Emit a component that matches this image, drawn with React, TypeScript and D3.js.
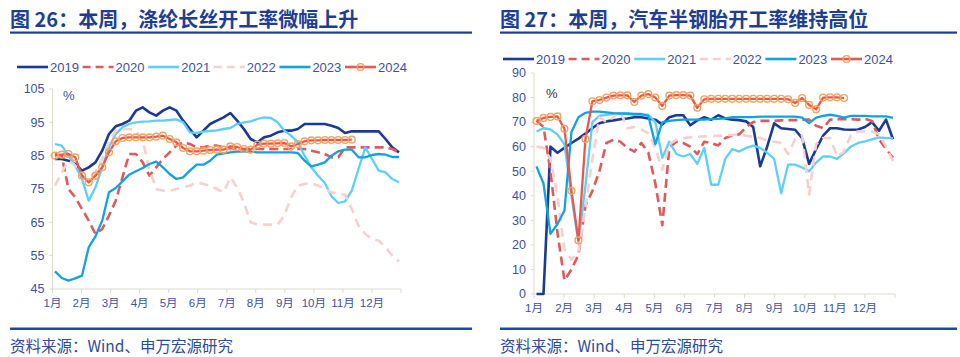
import React from "react";
import * as d3 from "d3";

const years = ["2019", "2020", "2021", "2022", "2023", "2024"];
const monthLabels = ["1月", "2月", "3月", "4月", "5月", "6月", "7月", "8月", "9月", "10月", "11月", "12月"];

const leftTicks = [45, 55, 65, 75, 85, 95, 105];
const rightTicks = [0, 10, 20, 30, 40, 50, 60, 70, 80, 90];

// 涤纶长丝开工率 (weekly, %)
const L2019 = [84,84,83.5,82.5,80.5,81.5,83,86.5,91.5,93.8, 94.5,95.5,98.5,99.5,98,97,98.5,99.5,98.5,95.5, 93,90.5,92.5,94.5,95.5,96.5,97.8,95.5,93,90, 89,90.5,91,92,92.5,92.5,93,94.5,94.5,94.5, 94.5,94,93.3,91.8,92.3,92.3,92.3,92.3,92.3,90, 87.5,86];
const L2020 = [85.5,85,75,72.5,69,65.5,61.5,63,67,71.5, 78.5,85.5,85.5,83,79,81.5,84,86,88,89, 88.5,87.5,87.5,88,88,87.5,87,87,87,87, 87,87,87,87,87,87,87,87,86.5,86, 85.5,84.5,84.5,87.5,87.5,87.5,87.5,87.5,87.5,87.5, 87,86];
const L2021 = [88.5,88,85,82,78,71.5,75.5,81.5,87.5,91.5, 93.5,94.5,95,95.2,95.3,95.5,95.5,95.7,95.9,95, 92,91.8,92.2,92.4,92.6,93,93.3,94.5,95,95.3, 96,96.5,96.3,95,92.5,91,89,85,81.5,79, 76.8,72.8,70.8,71.3,74.5,81,87.5,84,80.5,80, 78,77];
const L2022 = [76,80,83.5,82,79,78,80,84,89,92.5, 93,93,92.5,89.5,81,75,74.5,74.5,75,75.5, 76,77,76.5,76,75,74,78.5,75.5,71,65, 64.3,64.3,64.3,64.3,67,72.5,76,76.5,76.8,76, 75,74,73.5,73.3,69,64,61.5,60,59.5,57.5, 55,53.3];
const L2023 = [50.3,48.3,47.5,48.2,49,57.5,60.8,65.5,74,75.3, 77.3,79.3,80.3,81.3,82.5,83.2,81.5,79.5,78,78.5, 80.5,82.3,82.3,83.5,85.3,85.7,86,86.2,86.2,86.2, 86,86,86,86,86,86,85.8,83.5,81.8,82.3, 83,85,86.3,86.8,86.8,84.5,84.5,85.2,85.5,85.3, 84.6,84.6];
const L2024 = [85,85.3,85.5,84.5,79,77,79,81.5,86,89.3, 90.3,90.5,90.5,90.5,90.5,90.7,91,90,89,87.3, 86.3,86.3,86.5,86.7,86.8,86.8,87.8,87.6,87,86.8, 88.3,88.6,88.6,88.7,88.8,87.8,88.5,89.3,89.6,89.6, 89.7,89.7,89.7,89.7,89.8];

// 汽车半钢胎开工率 (weekly, %)
const R2019 = [0,0,60,57.5,59.5,61.5,63.3,65.3,67.6,69.5, 70.3,70.7,71.2,71.5,72,72,71.5,71,69,72, 72.8,72.8,68.7,70.7,72,71,72.8,71.5,71,70.8, 70.3,68,52,60,69.5,67.5,67.2,66.9,63.5,53, 59,64.5,67.5,67.5,67,66.9,67,68,70,66.5, 71,63];
const R2020 = [70.5,68,50,25,5.5,10,16,36,42,50, 61.5,62.8,62,59.5,58,61.5,57.5,45,28,59.5, 62,61.5,60,57,62,61.5,60.5,63.5,64.5,65, 68,70,70.5,70.5,70.5,70.7,70.8,70.8,71,71, 68.5,67.5,71,71.2,71.2,71.2,71,71.3,70.5,63, 59,55.5];
const R2021 = [66.2,67.5,67,65,61,40,21,44,70,72.5, 73,73.3,73.5,73.3,73,73,73,70,55.5,62, 57,56,57,53,59.5,44.5,44.5,55,59,58, 59.5,60.4,59.5,57.5,55,41,52.7,52.7,51.5,50, 53.5,56,56,55,57.4,60.1,61.5,62.2,63,63.8, 63.5,63.5];
const R2022 = [60.1,59.5,55,40,18,14,17,35,55,72, 70,72,74.5,67.5,68,67,65.5,59.5,50.5,61, 62.8,63.5,63.8,64,64.2,64.2,64.5,64.5,64.8,64.8, 64.5,64,63.5,62.5,62,61.5,57,63,64.5,40.5, 61,63.5,63.5,56,58,65,66.2,66.2,66.2,65, 60,54];
const R2023 = [52,45,24.5,28.5,34,66,72,73.8,74.3,74.3, 74,73.7,73.5,73.5,73.3,73.3,72.5,61,70,70.5, 70.8,71,71,71,71,71.2,71.3,71.5,72,72, 72,72,72.2,72.2,72.2,72.2,72.2,72.2,71.8,69.6, 71.8,72.5,73,72.5,71.8,72.5,72.5,72.5,72.3,72.3, 72.3,71.7];
const R2024 = [70.5,71.7,72.1,72.3,67.3,42,21.8,63.1,78.5,79, 80,80.8,80.9,80.9,78.2,80.8,81.4,80,76.6,80.8, 81,81,80.8,75.8,79.3,79.5,79.5,79.5,79.5,79.5, 79.5,79.5,79.5,79.5,79.5,79.5,79.3,77.8,79.8,77, 75.2,80,80.1,80.1,79.8];

const COLORS = ["#1b3a93", "#e05a5a", "#5ccffa", "#f8cfcf", "#12a2e2", "#e8584f"];
const DASH = [null, "9,5", null, "9,6", null, null];
const WIDTH = [2.6, 2.6, 2.3, 2.6, 2.3, 2.3];
const MARKER = "#f2a35c";

const NAVY = "#1e3d94";
const TICKBLUE = "#3b52a0";
const AXIS = "#dcdacb";
const FONT = "'Liberation Sans', Arial, 'Noto Sans CJK SC', sans-serif";
const CJK = "'Noto Sans CJK SC', 'Liberation Sans', sans-serif";

type ChartProps = {
  title: string;
  left: number;
  right: number;
  x0: number;
  x1: number;
  yTop: number;
  yBottom: number;
  domain: [number, number];
  ticks: number[];
  series: number[][];
  legendX: number;
  legendY: number;
  pctX: number;
  pctY: number;
  pctColor: string;
};

function Chart(p: ChartProps) {
  const y = d3.scaleLinear().domain(p.domain).range([p.yBottom, p.yTop]);
  const xm = d3.scaleLinear().domain([0, 12]).range([p.x0, p.x1]);
  const xw = d3.scaleLinear().domain([0, 51]).range([p.x0 + 2.5, p.x1 - 2]);
  const line = d3
    .line<number>()
    .x((_, i) => xw(i))
    .y((v) => y(v));
  const monthTicks = d3.range(13);
  return (
    <g>
      <text x={p.left} y={27} fontFamily={CJK} fontWeight={700} fontSize={20} fill={NAVY}>
        {p.title}
      </text>
      <rect x={p.left} y={31.5} width={p.right - p.left} height={2.2} fill={NAVY} />

      {/* legend */}
      {years.map((yr, i) => {
        const lx = p.legendX + i * 65.6;
        return (
          <g key={yr}>
            <line
              x1={lx}
              x2={lx + 31}
              y1={p.legendY}
              y2={p.legendY}
              stroke={COLORS[i]}
              strokeWidth={2.6}
              strokeDasharray={DASH[i] ? "8,5" : undefined}
            />
            {i === 5 && (
              <circle cx={lx + 15.5} cy={p.legendY} r={3.4} fill="none" stroke={MARKER} strokeWidth={1.4} />
            )}
            <text x={lx + 33} y={p.legendY + 4.5} fontFamily={FONT} fontSize={13} fill={TICKBLUE}>
              {yr}
            </text>
          </g>
        );
      })}

      {/* axes */}
      <line x1={p.x0} x2={p.x0} y1={y(p.domain[1])} y2={p.yBottom} stroke={AXIS} strokeWidth={1} />
      <line x1={p.x0} x2={p.x1} y1={p.yBottom} y2={p.yBottom} stroke={AXIS} strokeWidth={1} />
      {p.ticks.map((t) => (
        <g key={t}>
          <line x1={p.x0 - 3} x2={p.x0} y1={y(t)} y2={y(t)} stroke={AXIS} />
          <text
            x={p.x0 - 8}
            y={y(t) + 4.3}
            textAnchor="end"
            fontFamily={FONT}
            fontSize={12.5}
            fill={TICKBLUE}
          >
            {t}
          </text>
        </g>
      ))}
      {monthTicks.map((m) => (
        <line key={m} x1={xm(m)} x2={xm(m)} y1={p.yBottom} y2={p.yBottom + 4} stroke={AXIS} />
      ))}
      {monthLabels.map((lab, m) => (
        <text
          key={lab}
          x={xm(m)}
          y={p.yBottom + 18}
          textAnchor="middle"
          fontFamily={FONT}
          fontSize={11.5}
          fill={TICKBLUE}
        >
          {lab}
        </text>
      ))}
      <text x={p.pctX} y={p.pctY} fontFamily={FONT} fontSize={13} fill={p.pctColor}>
        %
      </text>

      {/* series */}
      {p.series.map((s, i) => (
        <path
          key={i}
          d={line(s) || ""}
          fill="none"
          stroke={COLORS[i]}
          strokeWidth={WIDTH[i]}
          strokeDasharray={DASH[i] || undefined}
          strokeLinejoin="round"
        />
      ))}
      {p.series[5].map((v, i) => (
        <circle key={"c" + i} cx={xw(i)} cy={y(v)} r={3.4} fill="none" stroke={MARKER} strokeWidth={1.4} />
      ))}

      <rect x={p.left} y={327.5} width={p.right - p.left} height={2.5} fill="#1f48a3" />
      <text x={p.left} y={351.5} fontFamily={CJK} fontSize={15.5} fill="#2c4c9c">
        资料来源：Wind、申万宏源研究
      </text>
    </g>
  );
}

export default function App() {
  return (
    <svg
      width={960}
      height={357}
      style={{ position: "absolute", left: 0, top: 0, background: "#fff" }}
    >
      <rect width={960} height={357} fill="#fff" />
      <Chart
        title="图 26：本周，涤纶长丝开工率微幅上升"
        left={10}
        right={472}
        x0={52.5}
        x1={401}
        yTop={89}
        yBottom={289}
        domain={[45, 105]}
        ticks={leftTicks}
        series={[L2019, L2020, L2021, L2022, L2023, L2024]}
        legendX={17}
        legendY={67}
        pctX={63}
        pctY={100}
        pctColor={TICKBLUE}
      />
      <Chart
        title="图 27：本周，汽车半钢胎开工率维持高位"
        left={500}
        right={957}
        x0={534}
        x1={895}
        yTop={73}
        yBottom={294}
        domain={[0, 90]}
        ticks={rightTicks}
        series={[R2019, R2020, R2021, R2022, R2023, R2024]}
        legendX={503}
        legendY={59}
        pctX={546}
        pctY={98}
        pctColor="#333"
      />
    </svg>
  );
}
